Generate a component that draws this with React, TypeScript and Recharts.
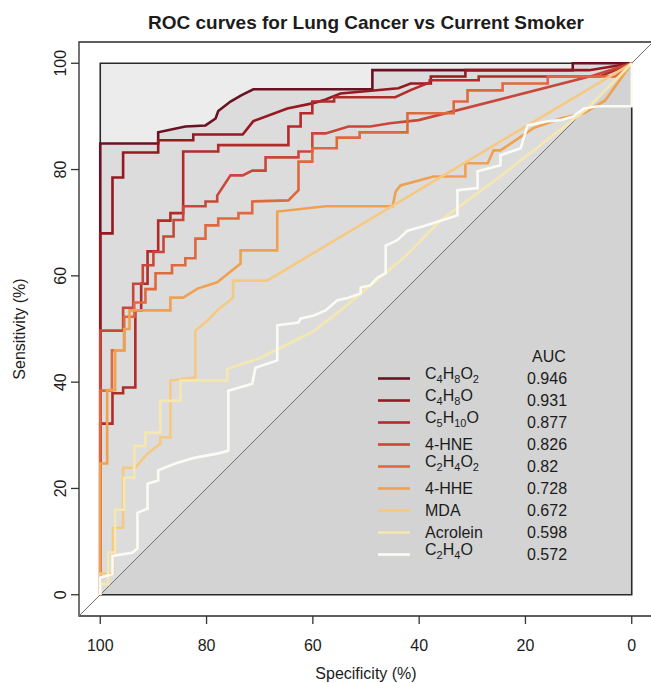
import React from "react";
import { ComposedChart, Area, Line, XAxis, YAxis, ReferenceArea, ReferenceLine } from "recharts";

type Pair = [number, number];

// [specificity %, sensitivity %]
const c4h8o2: Pair[] = [
  [100, 0], [100, 84.9], [89.1, 84.9], [89.1, 87.0], [84.0, 88.1], [80.2, 88.3], [78.3, 89.6],
  [77.8, 91.0], [75.5, 92.8], [73.4, 94.0], [71.2, 95.1], [48.8, 95.1], [48.8, 98.7],
  [11.1, 98.7], [11.1, 100], [0, 100],
];
const c4h8o: Pair[] = [
  [100, 0], [100, 68.0], [97.7, 68.0], [97.7, 78.5], [95.7, 78.5], [95.7, 83.2], [89.1, 83.2],
  [89.1, 85.5], [82.5, 85.5], [82.5, 86.6], [73.2, 86.6], [71.2, 89.1], [64.8, 91.5], [59.9, 92.5],
  [57.6, 93.2], [54.8, 94.3], [43.9, 95.3], [41.6, 96.2], [37.8, 96.2], [37.8, 97.5], [31.3, 97.5],
  [31.3, 98.7], [8, 98.7], [0, 100],
];
const c5h10o: Pair[] = [
  [100, 0], [100, 32.2], [97.7, 32.2], [97.7, 37.9], [95.7, 37.9], [95.7, 39.0], [93.4, 39.0],
  [93.4, 53.5], [92.3, 53.5], [92.3, 58.5], [91.1, 58.5], [91.1, 64.6], [89.1, 64.6], [89.1, 70.4],
  [86.8, 70.4], [86.8, 71.8], [84.4, 71.8], [84.4, 83.4], [77.8, 83.4], [77.8, 84.6], [64.6, 84.6],
  [64.6, 88.1], [62.3, 88.1], [62.3, 90.6], [60.1, 90.6], [60.1, 92.8], [56.0, 92.8], [56.0, 93.6],
  [44.5, 93.6], [41.5, 95.0], [38.0, 96.4], [38.0, 96.8], [28.8, 96.8], [28.8, 97.5], [6, 97.5],
  [0, 100],
];
const hne: Pair[] = [
  [100, 0], [100, 49.7], [95.7, 49.7], [95.7, 54.0], [93.8, 54.0], [93.8, 58.5], [92.0, 58.5],
  [92.0, 62.0], [90.0, 62.0], [90.0, 64.5], [88.1, 64.5], [88.1, 67.4], [86.2, 67.4], [86.2, 70.5],
  [84.4, 70.5], [84.4, 73.1], [80.2, 73.1], [80.2, 74.0], [78.0, 74.0], [78.0, 75.1], [75.5, 78.9],
  [73.2, 78.9], [71.4, 79.8], [68.9, 79.8], [68.9, 82.3], [62.7, 82.3], [62.7, 83.4], [60.1, 83.4],
  [60.1, 86.8], [57.6, 86.8], [53.3, 88.1], [49.2, 88.1], [45.5, 88.7], [40.1, 89.3], [7.2, 97.7],
  [0, 100],
];
const c2h4o2: Pair[] = [
  [100, 0], [100, 38.4], [97.8, 38.4], [97.8, 46.0], [95.5, 46.0], [95.5, 52.3], [93.6, 52.3],
  [93.6, 55.0], [91.5, 55.0], [91.5, 57.5], [89.6, 57.5], [89.6, 60.5], [86.5, 60.5], [86.5, 62.0],
  [84.0, 62.0], [84.0, 63.3], [82.1, 63.3], [82.1, 67.0], [80.2, 67.0], [80.2, 69.5], [77.8, 69.5],
  [77.8, 70.8], [74.0, 70.8], [74.0, 71.8], [71.4, 71.8], [71.4, 74.0], [64.6, 74.2], [62.7, 76.1],
  [62.7, 81.5], [60.1, 81.5], [60.1, 84.0], [55.5, 84.0], [55.5, 86.0], [51.2, 86.0], [51.2, 87.0],
  [42.2, 87.0], [42.2, 90.6], [33.5, 90.6], [33.5, 92.8], [30.9, 92.8], [30.9, 94.9], [24.3, 94.9],
  [24.3, 96.2], [15.8, 96.2], [15.8, 97.5], [3, 97.5], [0, 100],
];
const hhe: Pair[] = [
  [100, 0], [100, 24.7], [98.7, 24.7], [98.7, 38.5], [97.2, 38.5], [97.2, 46.0], [95.5, 46.0],
  [95.5, 50.0], [94.5, 50.0], [94.5, 53.5], [86.8, 53.5], [86.8, 55.9], [84.4, 55.9], [81.7, 57.6],
  [78.0, 58.8], [73.6, 62.3], [73.6, 64.8], [66.7, 64.8], [66.7, 72.1], [57.6, 73.1], [45.0, 73.1],
  [44.4, 75.9], [43.5, 77.0], [37.3, 78.7], [31.3, 78.7], [31.3, 81.2], [27.1, 81.2], [26.0, 83.6],
  [24.7, 83.6], [18.5, 87.8], [13.4, 89.6], [9.0, 90.6], [5.0, 93.0], [0, 100],
];
const mda: Pair[] = [
  [100, 0], [100, 4.0], [97.6, 4.0], [97.6, 12.6], [95.7, 12.6], [95.7, 23.9], [93.4, 23.9],
  [91.1, 26.6], [88.7, 28.4], [88.7, 29.6], [86.8, 29.6], [86.8, 40.3], [82.1, 40.9], [82.1, 49.7],
  [79.8, 51.6], [78.0, 53.5], [75.0, 55.9], [75.0, 59.1], [68.6, 59.1], [0, 100],
];
const acrolein: Pair[] = [
  [100, 0], [100, 2.0], [98.5, 2.0], [98.5, 8.0], [97.2, 8.0], [97.2, 16.0], [95.5, 16.0],
  [95.5, 22.0], [93.6, 22.0], [93.6, 28.0], [91.5, 28.0], [91.5, 30.5], [88.7, 30.5], [88.7, 36.5],
  [84.9, 36.5], [84.9, 40.3], [76.1, 40.3], [76.1, 42.5], [70.0, 44.5], [64.0, 47.5], [60.0, 49.5],
  [54.8, 53.5], [43.0, 63.3], [36.0, 70.4], [25.0, 78.5], [16.0, 85.5], [8.3, 91.5], [0, 100],
];
const c2h4o: Pair[] = [
  [100, 0], [100, 3.2], [97.7, 3.9], [97.7, 7.3], [94.0, 7.9], [93.0, 8.7], [93.0, 15.4],
  [91.1, 16.2], [91.1, 20.9], [89.1, 21.5], [89.1, 23.4], [85.9, 24.7], [82.1, 25.8], [77.8, 26.6],
  [75.9, 27.1], [75.9, 38.4], [71.4, 39.7], [70.8, 42.7], [66.7, 44.1], [66.7, 50.7], [62.7, 51.2],
  [62.3, 52.0], [59.9, 52.5], [57.6, 53.5], [55.4, 55.4], [53.3, 55.9], [51.0, 56.7], [51.0, 57.8],
  [49.2, 58.2], [47.8, 59.7], [46.3, 60.5], [46.3, 65.7], [44.1, 66.7], [42.2, 68.5], [39.7, 69.2],
  [36.5, 70.2], [32.8, 71.4], [32.8, 76.1], [29.0, 76.5], [29.0, 79.7], [24.7, 80.8], [24.7, 82.7],
  [20.9, 84.0], [19.6, 88.3], [15.8, 89.1], [13.4, 89.3], [11.0, 90.0], [9.0, 91.5], [6.4, 91.9],
  [0, 91.9], [0, 100],
];

const fullSquare: Pair[] = [[100, 100], [0, 100]];
const chanceLine: Pair[] = [[100, 0], [0, 100]];

const specTicks = [0, 20, 40, 60, 80, 100];
const sensTicks = [0, 20, 40, 60, 80, 100];

const seriesNames = ["C4H8O2", "C4H8O", "C5H10O", "4-HNE", "C2H4O2", "4-HHE", "MDA", "Acrolein", "C2H4O"];
const isFormula = [true, true, true, false, true, false, false, false, true];
const aucValues = ["0.946", "0.931", "0.877", "0.826", "0.82", "0.728", "0.672", "0.598", "0.572"];
const seriesColors = ["#6a1224", "#961820", "#b32a2b", "#c9473a", "#e0683f", "#efa150", "#f6c982", "#f5e7b0", "#fbfbf6"];
const seriesPoints = [c4h8o2, c4h8o, c5h10o, hne, c2h4o2, hhe, mda, acrolein, c2h4o];

const toRows = (pairs: Pair[]) => pairs.map(([spec, sens]) => ({ spec, sens }));

const series = seriesNames.map((name, i) => ({
  name,
  formula: isFormula[i],
  auc: aucValues[i],
  color: seriesColors[i],
  rows: toRows(seriesPoints[i]),
}));

const FONT = "'Liberation Sans', Arial, Helvetica, sans-serif";
const INK = "#1c1c1c";

function Formula({ text, formula }: { text: string; formula: boolean }) {
  if (!formula) return <>{text}</>;
  const parts = text.match(/[A-Za-z]+|\d+/g) || [];
  let shift = 0;
  return (
    <>
      {parts.map((p, i) => {
        const sub = /^\d+$/.test(p);
        const target = sub ? 4 : 0;
        const dy = target - shift;
        shift = target;
        return (
          <tspan key={i} dy={dy} fontSize={sub ? 11 : 16}>
            {p}
          </tspan>
        );
      })}
    </>
  );
}

const YTick = (props: any) => {
  const { x, y, payload } = props;
  return (
    <text x={x} y={y} dy="0.35em" textAnchor="middle" fontSize={16} fill={INK} transform={`rotate(-90 ${x} ${y})`}>
      {payload.value}
    </text>
  );
};

export default function App() {
  return (
    <div style={{ position: "absolute", left: 0, top: 0, width: 651, height: 683, overflow: "hidden", background: "#fff", fontFamily: FONT }}>
      <ComposedChart width={653} height={683} margin={{ top: 42, right: 0, bottom: 0, left: 0 }}>
        <XAxis
          type="number"
          dataKey="spec"
          domain={[-4, 104]}
          allowDataOverflow
          reversed
          ticks={specTicks}
          height={67}
          tickSize={8}
          tickMargin={16}
          axisLine={false}
          tickLine={{ stroke: "#333", strokeWidth: 1.3 }}
          tick={{ fontSize: 16, fill: INK }}
        />
        <YAxis
          type="number"
          dataKey="sens"
          domain={[-4, 104]}
          allowDataOverflow
          ticks={sensTicks}
          width={79}
          tickSize={8}
          tickMargin={11}
          axisLine={false}
          tickLine={{ stroke: "#333", strokeWidth: 1.3 }}
          tick={<YTick />}
        />
        <Area data={toRows(fullSquare)} dataKey="sens" type="linear" baseValue={0} fill="#ececec" fillOpacity={1} stroke="none" isAnimationActive={false} />
        {series.map((s) => (
          <Area key={"a" + s.name} data={s.rows} dataKey="sens" type="linear" baseValue={0} fill="#dcdcdc" fillOpacity={1} stroke="none" isAnimationActive={false} />
        ))}
        <Area data={toRows(chanceLine)} dataKey="sens" type="linear" baseValue={0} fill="#d3d3d3" fillOpacity={1} stroke="none" isAnimationActive={false} />
        <ReferenceLine segment={[{ x: 104, y: -4 }, { x: -4, y: 104 }]} stroke="#6e6e6e" strokeWidth={1} />
        <ReferenceArea x1={100} x2={0} y1={0} y2={100} fill="none" stroke="#2a2a2a" strokeWidth={1.6} />
        {series.map((s) => (
          <Line key={s.name} data={s.rows} dataKey="sens" name={s.name} type="linear" stroke={s.color} strokeWidth={2.6} dot={false} activeDot={false} isAnimationActive={false} />
        ))}
        <ReferenceArea x1={104} x2={-4} y1={-4} y2={104} fill="none" stroke="#2a2a2a" strokeWidth={1.3} />
      </ComposedChart>

      <svg width={651} height={683} style={{ position: "absolute", left: 0, top: 0, pointerEvents: "none" }} fontFamily={FONT}>
        <text x={366} y={29} textAnchor="middle" fontSize={19} fontWeight="bold" fill={INK}>
          ROC curves for Lung Cancer vs Current Smoker
        </text>
        <text x={366} y={679} textAnchor="middle" fontSize={16} fill={INK}>
          Specificity (%)
        </text>
        <text x={19} y={329} dy="0.35em" textAnchor="middle" fontSize={16} fill={INK} transform="rotate(-90 19 329)">
          Sensitivity (%)
        </text>
        <text x={532} y={356} dy="0.35em" fontSize={16} fill={INK}>AUC</text>
        {series.map((s, i) => {
          const y = 378.5 + i * 22;
          return (
            <g key={"lg" + s.name}>
              <line x1={378} x2={410} y1={y} y2={y} stroke={s.color} strokeWidth={2.6} />
              <text x={425} y={y} dy="0.35em" fontSize={16} fill={INK}>
                <Formula text={s.name} formula={s.formula} />
              </text>
              <text x={527} y={y} dy="0.35em" fontSize={16} fill={INK}>{s.auc}</text>
            </g>
          );
        })}
      </svg>
    </div>
  );
}
